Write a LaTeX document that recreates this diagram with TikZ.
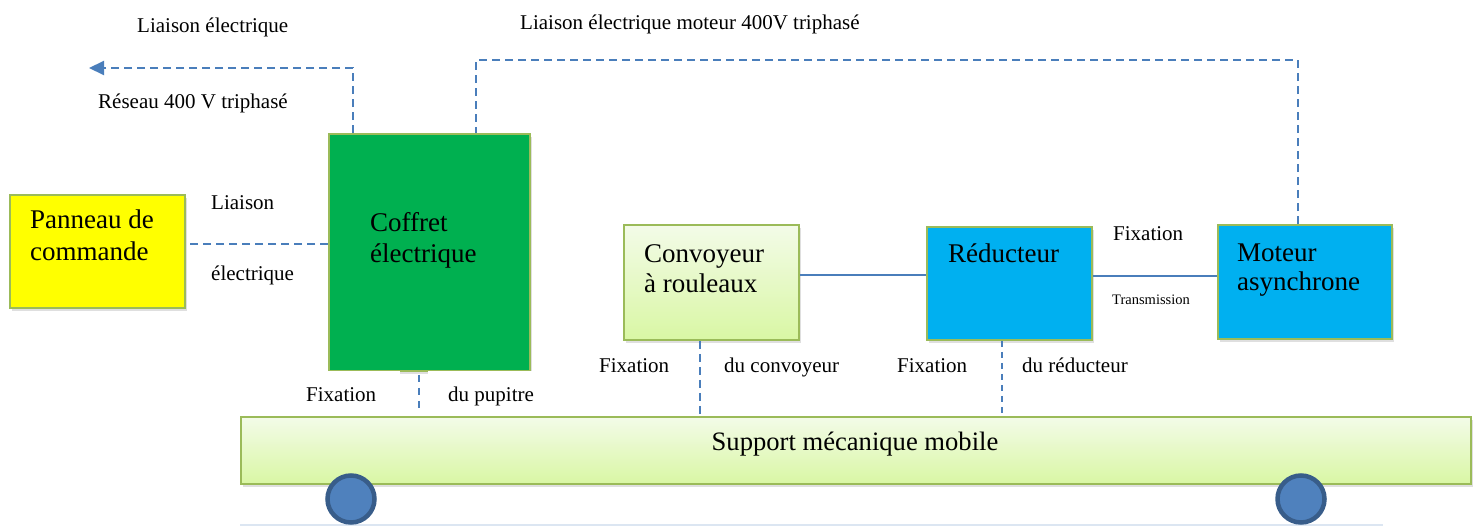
\documentclass[tikz,border=0pt]{standalone}
\usepackage{fontspec}
\setmainfont{Liberation Serif}
\usetikzlibrary{arrows.meta,shadows,calc}
\definecolor{olivb}{HTML}{9BBB59}
\definecolor{linkb}{HTML}{4A7EBB}
\definecolor{boxgreen}{HTML}{00B050}
\definecolor{cyanb}{HTML}{00B0F0}
\definecolor{yelb}{HTML}{FFFF00}
\definecolor{lgtop}{HTML}{F3FBE8}
\definecolor{lgbot}{HTML}{D9F7A4}
\definecolor{wheelf}{HTML}{4F81BD}
\definecolor{wheeld}{HTML}{385D8A}
\definecolor{faint}{HTML}{DCE6F2}
\begin{document}
\begin{tikzpicture}[x=1pt,y=-1pt,
 blk/.style={draw=olivb, line width=1.8pt, anchor=north west, inner sep=0pt,
   drop shadow={shadow xshift=2pt,shadow yshift=-3pt,opacity=0.25}},
 grad/.style={top color=lgtop, bottom color=lgbot},
 big/.style={font=\fontsize{27}{31}\selectfont, anchor=base west, inner sep=0pt},
 lbl/.style={font=\fontsize{21}{25}\selectfont, anchor=base west, inner sep=0pt},
 elink/.style={draw=linkb, line width=2pt, dash pattern=on 8pt off 5pt},
 shortlink/.style={draw=linkb, line width=2pt, dash pattern=on 7pt off 6pt},
 thinlink/.style={draw=linkb, line width=1.3pt, dash pattern=on 6pt off 5pt},
 mlink/.style={draw=linkb, line width=2pt},
 wheel/.style={circle, fill=wheelf, draw=wheeld, line width=4.5pt, minimum size=47pt, inner sep=0pt},
]
\useasboundingbox (0,0) rectangle (1478,527);
% faint base line
\draw[faint, line width=1.5pt] (240,525) -- (1383,525);
% blocks
\node[blk, fill=yelb, minimum width=175pt, minimum height=113pt] (pan) at (9,194) {};
\node[blk, fill=boxgreen, minimum width=201pt, minimum height=237pt] (cof) at (328,133) {};
\node[blk, grad, minimum width=175pt, minimum height=115pt] (conv) at (623,224) {};
\node[blk, fill=cyanb, minimum width=165pt, minimum height=113pt] (red) at (926,226) {};
\node[blk, fill=cyanb, minimum width=174pt, minimum height=114pt] (mot) at (1217,224) {};
\node[blk, grad, minimum width=1230pt, minimum height=67pt] (sup) at (240,416) {};
\node[font=\fontsize{26.6}{30}\selectfont, anchor=base] (suptxt) at (855,450) {Support mécanique mobile};
% wheels
\node[wheel] (w1) at (351,499) {};
\node[wheel] (w2) at (1301,499) {};
% block texts
\node[big] (t1) at (30,228) {Panneau de};
\node[big] (t2) at (30,260) {commande};
\node[big] (t3) at (370,231) {Coffret};
\node[big] (t4) at (370,262) {électrique};
\node[big] (t5) at (644,262) {Convoyeur};
\node[big] (t6) at (644,292) {à rouleaux};
\node[big] (t7) at (948,262) {Réducteur};
\node[big] (t8) at (1237,261) {Moteur};
\node[big] (t9) at (1237,290) {asynchrone};
% white label backgrounds under coffret
\fill[white] (285,371) rectangle (400,414);
\fill[white] (428,371) rectangle (561,414);
% connectors
\coordinate (arrend) at (89,68);
\draw[elink, -{Triangle[length=15pt,width=14pt]}] ([xshift=25pt]cof.north west) |- (arrend);
\coordinate (toprt) at (1297,60);
\coordinate (cofr) at ([xshift=148pt]cof.north west);
\draw[elink] ([xshift=-7pt]mot.north) |- (toprt -| cofr) -- (cofr);
\coordinate (pl) at ([yshift=7.5pt]pan.east);
\draw[elink] (pl -| cof.west) -- (pl);
\coordinate (cl) at ([yshift=7.5pt]conv.east);
\draw[mlink] (cl) -- (cl -| red.west);
\coordinate (rl) at ([yshift=7pt]red.east);
\draw[mlink] (rl) -- (rl -| mot.west);
\coordinate (cb) at ([xshift=-10pt,yshift=-3pt]cof.south);
\draw[shortlink] (cb) -- ([yshift=6pt]cb |- sup.north);
\coordinate (vb) at ([xshift=-11.5pt]conv.south);
\draw[elink] (vb) -- (vb |- sup.north);
\coordinate (rb) at ([xshift=-7.5pt]red.south);
\draw[thinlink] (rb) -- (rb |- sup.north);
% labels
\node[lbl] (l1) at (137,33) {Liaison électrique};
\node[lbl] (l2) at (98,108) {Réseau 400 V triphasé};
\node[lbl] (l3) at (520,30) {Liaison électrique moteur 400V triphasé};
\node[lbl] (l4) at (211,209) {Liaison};
\node[lbl] (l5) at (211,280) {électrique};
\node[lbl] (l6) at (306,401) {Fixation};
\node[lbl] (l7) at (448,401) {du pupitre};
\node[lbl] (l8) at (599,372) {Fixation};
\node[lbl] (l9) at (724,372) {du convoyeur};
\node[lbl] (l10) at (897,372) {Fixation};
\node[lbl] (l11) at (1022,372) {du réducteur};
\node[lbl] (l12) at (1113,240) {Fixation};
\node[font=\fontsize{14.5}{17}\selectfont, anchor=base west, inner sep=0pt] (l13) at (1112,304) {Transmission};
\end{tikzpicture}
\end{document}
